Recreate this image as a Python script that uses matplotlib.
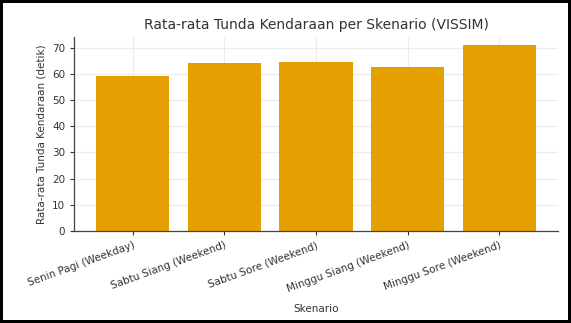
import matplotlib.pyplot as plt

# Data
skenario = ["Senin Pagi (Weekday)", "Sabtu Siang (Weekend)", "Sabtu Sore (Weekend)",
            "Minggu Siang (Weekend)", "Minggu Sore (Weekend)"]
tunda = [59.0, 64.2, 64.5, 62.5, 71.0]

fig = plt.figure(figsize=(5.71, 3.23), dpi=100)
fig.patch.set_edgecolor("black")
fig.patch.set_linewidth(3)
ax = fig.add_axes([0.130, 0.285, 0.847, 0.600])

ax.bar(skenario, tunda, width=0.8, color="#E69F00", zorder=2)

ax.set_ylim(0, 74)
ax.set_yticks(range(0, 71, 10))
ax.grid(True, color="#ececec", linewidth=0.8, zorder=0)
ax.set_axisbelow(True)
for s in ["top", "right"]:
    ax.spines[s].set_visible(False)
for s in ["left", "bottom"]:
    ax.spines[s].set_color("#444444")
    ax.spines[s].set_linewidth(0.9)

ax.tick_params(axis="both", colors="#333333", labelsize=7.5, length=3)
plt.setp(ax.get_xticklabels(), rotation=20, ha="right", rotation_mode="anchor")

ax.set_title("Rata-rata Tunda Kendaraan per Skenario (VISSIM)", fontsize=10, color="#333333", pad=6)
ax.set_xlabel("Skenario", fontsize=7.5, color="#333333", labelpad=7)
ax.set_ylabel("Rata-rata Tunda Kendaraan (detik)", fontsize=7.5, color="#333333")

fig.savefig("out.png", dpi=100, edgecolor=fig.get_edgecolor())
